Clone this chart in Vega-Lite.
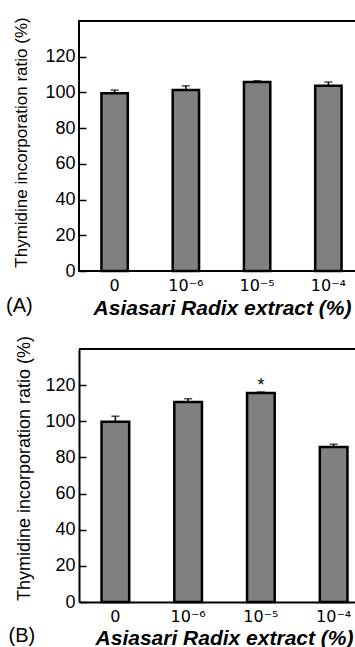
{
  "$schema": "https://vega.github.io/schema/vega-lite/v6.json",
  "background": "white",
  "padding": {"left": 4, "top": 15, "right": 0, "bottom": 0},
  "config": {
    "font": "Liberation Sans",
    "view": {"stroke": "black", "strokeWidth": 2},
    "axis": {"grid": false, "labelColor": "black", "titleColor": "black", "labelFont": "Liberation Sans", "titleFont": "Liberation Sans"},
    "axisX": {"domain": false, "ticks": false, "labelAngle": 0, "labelFont": "DejaVu Sans", "labelFontSize": 16, "labelPadding": 6, "titleFontSize": 21, "titleFontWeight": "bold", "titleFontStyle": "italic", "titlePadding": 4},
    "axisY": {"domain": false, "ticks": true, "tickSize": -7, "tickColor": "black", "tickWidth": 1.5, "labelFontSize": 18, "labelPadding": 11, "titleFontSize": 17, "titleFontWeight": "normal"},
    "title": {"fontSize": 20, "fontWeight": "normal", "color": "black", "font": "Liberation Sans"}
  },
  "datasets": {
    "panelA": [
      {"conc": "0", "value": 99.5, "upper": 101.3, "sig": ""},
      {"conc": "10⁻⁶", "value": 101.3, "upper": 103.7, "sig": ""},
      {"conc": "10⁻⁵", "value": 105.9, "upper": 106.5, "sig": ""},
      {"conc": "10⁻⁴", "value": 103.7, "upper": 105.8, "sig": ""}
    ],
    "panelB": [
      {"conc": "0", "value": 99.7, "upper": 102.8, "sig": ""},
      {"conc": "10⁻⁶", "value": 110.7, "upper": 112.5, "sig": ""},
      {"conc": "10⁻⁵", "value": 115.6, "upper": 116.2, "sig": "*"},
      {"conc": "10⁻⁴", "value": 85.8, "upper": 87.3, "sig": ""}
    ]
  },
  "spacing": 16,
  "vconcat": [
    {
      "width": 285,
      "height": 250,
      "data": {"name": "panelA"},
      "title": {"text": "(A)", "orient": "bottom", "anchor": "start", "frame": "bounds", "offset": -22, "dx": -7},
      "encoding": {
        "x": {"field": "conc", "type": "ordinal", "sort": null, "scale": {"paddingInner": 0, "paddingOuter": 0}, "axis": {"title": "Asiasari Radix extract (%)", "titleX": 143}},
        "y": {"type": "quantitative", "scale": {"domain": [0, 140]}, "axis": {"values": [0, 20, 40, 60, 80, 100, 120], "title": "Thymidine incorporation ratio (%)", "titlePadding": 14, "titleY": 121}}
      },
      "layer": [
        {"mark": {"type": "rule", "color": "black", "strokeWidth": 1.5}, "encoding": {"y": {"field": "value", "type": "quantitative"}, "y2": {"field": "upper"}}},
        {"mark": {"type": "tick", "color": "black", "thickness": 1.5, "size": 8}, "encoding": {"y": {"field": "upper", "type": "quantitative"}}},
        {"mark": {"type": "bar", "width": {"band": 0.37}, "fill": "#808080", "stroke": "black", "strokeWidth": 2.5}, "encoding": {"y": {"field": "value", "type": "quantitative"}}}
      ]
    },
    {
      "width": 291,
      "height": 253,
      "view": {"stroke": null},
      "data": {"name": "panelB"},
      "title": {"text": "(B)", "orient": "bottom", "anchor": "start", "frame": "bounds", "offset": -22, "dx": -7},
      "layer": [
        {"mark": {"type": "rule", "color": "black", "strokeWidth": 2}, "encoding": {"y": {"datum": 140, "type": "quantitative", "scale": {"domain": [0, 140]}, "axis": {"values": [0, 20, 40, 60, 80, 100, 120], "title": "Thymidine incorporation ratio (%)", "titlePadding": 11.5, "titleY": 119, "titleFontSize": 18, "domain": true, "domainColor": "black", "domainWidth": 2}}}},
        {"mark": {"type": "rule", "color": "black", "strokeWidth": 1.5}, "encoding": {"x": {"field": "conc", "type": "ordinal", "sort": null, "scale": {"paddingInner": 0, "paddingOuter": 0}, "axis": {"title": "Asiasari Radix extract (%)", "titleX": 145, "domain": true, "domainColor": "black", "domainWidth": 2, "labelPadding": 6, "titlePadding": 3}}, "y": {"field": "value", "type": "quantitative"}, "y2": {"field": "upper"}}},
        {"mark": {"type": "tick", "color": "black", "thickness": 1.5, "size": 8}, "encoding": {"x": {"field": "conc", "type": "ordinal", "sort": null}, "y": {"field": "upper", "type": "quantitative"}}},
        {"mark": {"type": "bar", "width": {"band": 0.38}, "fill": "#808080", "stroke": "black", "strokeWidth": 2.5}, "encoding": {"x": {"field": "conc", "type": "ordinal", "sort": null}, "y": {"field": "value", "type": "quantitative"}}},
        {"mark": {"type": "text", "fontSize": 18, "baseline": "alphabetic", "dy": -1, "color": "black"}, "encoding": {"x": {"field": "conc", "type": "ordinal", "sort": null}, "y": {"field": "upper", "type": "quantitative"}, "text": {"field": "sig"}}}
      ]
    }
  ]
}
